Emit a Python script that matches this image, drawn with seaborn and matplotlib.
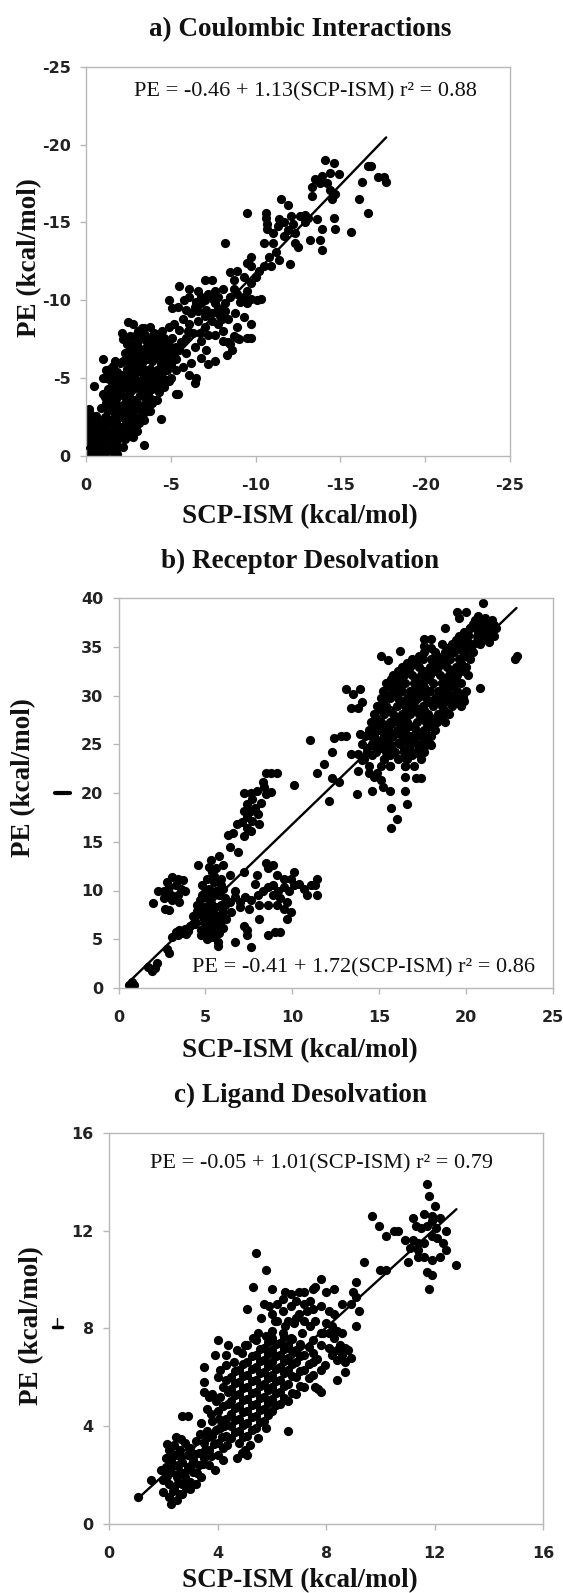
import pandas as pd
import seaborn as sns
import matplotlib.pyplot as plt
from matplotlib.lines import Line2D

# ---------------- data (SCP-ISM, PE) in kcal/mol ----------------
coulomb_pts = [
    # sparse upper tail
    (-14.1, -19.0), (-14.6, -18.8), (-14.4, -18.2), (-14.9, -18.1), (-13.9, -18.0), (-16.6, -18.6),
    (-16.8, -18.6), (-17.2, -17.9), (-17.7, -17.6), (-17.6, -17.9), (-16.3, -17.6), (-13.3, -17.3),
    (-13.5, -17.8), (-13.8, -17.5), (-14.2, -17.5), (-14.4, -17.1), (-14.7, -16.8), (-13.3, -16.7),
    (-14.5, -16.5), (-16.1, -16.5), (-16.6, -15.6), (-14.6, -15.3), (-14.7, -14.6), (-15.6, -14.4),
    (-13.9, -14.6), (-13.2, -13.9), (-13.8, -13.9), (-13.9, -13.2), (-11.5, -16.5), (-11.9, -16.1),
    (-12.9, -15.5), (-13.1, -15.3), (-10.6, -15.6), (-10.6, -15.3), (-10.7, -14.9), (-10.7, -14.6),
    (-9.5, -15.6), (-8.2, -13.7), (-12.0, -12.3), (-12.3, -14.3), (-11.4, -15.2),
    # band around -9 .. -13
    (-9.7, -12.8), (-9.5, -12.4), (-10.2, -11.9), (-10.0, -11.5), (-10.5, -12.2), (-10.8, -12.8),
    (-11.0, -13.7), (-10.5, -13.7), (-11.2, -13.1), (-11.7, -14.1), (-11.9, -14.5), (-12.2, -14.9),
    (-12.3, -13.7), (-12.5, -13.4), (-11.0, -14.3), (-11.3, -14.8), (-11.7, -15.0), (-12.1, -15.4),
    (-12.6, -15.4), (-12.9, -15.0), (-13.6, -15.2), (-11.4, -12.6), (-10.9, -12.2), (-9.7, -11.1),
    (-9.5, -10.6), (-9.3, -10.2), (-9.7, -10.1), (-10.1, -10.0), (-9.5, -9.8), (-9.1, -9.9),
    (-8.9, -10.4), (-8.7, -11.3), (-8.9, -11.9), (-9.3, -11.5), (-9.7, -12.2), (-8.5, -11.8),
    (-8.7, -10.7), (-8.1, -10.7), (-10.3, -10.1),
    # middle cluster
    (-5.5, -10.9), (-4.9, -10.0), (-5.1, -9.5), (-6.1, -10.2), (-6.6, -10.6), (-7.0, -11.3),
    (-7.4, -11.3), (-6.8, -9.8), (-6.4, -9.6), (-5.9, -9.4), (-7.1, -9.4), (-7.6, -9.8),
    (-7.8, -10.2), (-8.2, -9.8), (-7.4, -8.7), (-7.0, -8.3), (-6.6, -8.7), (-6.1, -8.5),
    (-5.7, -8.8), (-7.6, -7.8), (-8.1, -7.4), (-8.5, -7.2), (-8.9, -7.6), (-9.5, -7.6),
    (-8.7, -7.7), (-8.3, -6.5), (-8.6, -6.8), (-7.6, -6.1), (-7.2, -5.9), (-6.8, -6.3),
    (-7.1, -6.8), (-6.4, -7.0), (-6.8, -7.4), (-5.9, -7.6), (-5.5, -8.1), (-5.1, -7.6),
    (-4.9, -8.3), (-5.3, -7.0), (-6.1, -5.2), (-6.4, -4.7), (-6.5, -5.0), (-5.5, -6.8),
    (-4.7, -6.3), (-5.0, -5.9), (-4.2, -6.8), (-4.7, -7.4), (-4.2, -7.8), (-3.8, -8.3),
    (-3.4, -8.2), (-3.0, -7.8), (-2.8, -8.5), (-2.1, -7.9), (-5.3, -4.0), (-4.9, -4.8),
    (-4.4, -5.5), (-7.6, -10.6), (-7.2, -10.4), (-6.8, -10.2), (-6.5, -9.9), (-7.9, -9.0),
    (-8.4, -8.8), (-8.8, -9.2), (-9.3, -8.9), (-9.7, -8.5), (-7.8, -8.5), (-7.2, -7.8),
    (-8.1, -8.0), (-9.0, -7.5), (-9.7, -7.6), (-8.4, -7.3),
    (-5.8, -10.0), (-6.2, -9.2), (-6.6, -9.3), (-7.0, -9.0), (-7.4, -9.2), (-7.8, -9.5),
    (-8.5, -10.2), (-8.2, -9.3), (-5.4, -9.6), (-5.2, -8.5), (-6.0, -8.0), (-6.3, -7.9),
    (-6.7, -7.9), (-5.6, -7.3), (-5.9, -6.6), (-6.2, -6.0), (-5.7, -5.7), (-5.3, -5.5),
    (-5.0, -5.0), (-7.0, -10.0), (-6.1, -10.7), (-7.5, -10.1), (-8.0, -8.8), (-8.9, -8.3),
    # dense lower-left block
    (-0.1, -0.1), (-0.2, -0.4), (-0.1, -0.8), (-0.3, -1.2), (-0.1, -1.6), (-0.2, -2.0),
    (-0.1, -2.5), (-0.4, -0.2), (-0.5, -0.7), (-0.4, -1.0), (-0.6, -1.4), (-0.5, -1.9),
    (-0.3, -2.3), (-0.7, -0.1), (-0.8, -0.5), (-0.9, -0.9), (-0.7, -1.2), (-0.8, -1.7),
    (-0.9, -2.2), (-0.6, -2.6), (0.0, -0.4), (0.0, -1.1), (-0.2, -3.0), (-0.5, -4.5),
    (-0.9, -3.1), (-1.0, -0.3), (-0.3, -0.6), (-0.6, -0.3),
    (-0.25, -0.15), (-0.15, -1.0), (-0.45, -1.5), (-0.35, -1.8), (-0.65, -0.9), (-0.75, -1.9),
    (-0.85, -0.2), (-0.95, -1.4), (-0.55, -2.2), (-0.25, -2.7), (-0.05, -2.0),
    (-1.1, -0.2), (-1.2, -0.7), (-1.1, -1.1), (-1.3, -1.5), (-1.2, -2.0), (-1.1, -2.5),
    (-1.3, -2.9), (-1.2, -3.4), (-1.1, -3.8), (-1.3, -4.3), (-1.2, -5.0), (-1.0, -6.2),
    (-1.5, -0.3), (-1.6, -0.8), (-1.4, -1.2), (-1.6, -1.7), (-1.5, -2.2), (-1.7, -2.6),
    (-1.5, -3.0), (-1.6, -3.5), (-1.4, -4.0), (-1.6, -4.5), (-1.5, -5.2), (-1.6, -5.8),
    (-1.8, -0.1), (-1.9, -0.6), (-1.8, -1.0), (-2.0, -1.4), (-1.9, -1.9), (-1.8, -2.4),
    (-2.0, -2.8), (-1.9, -3.3), (-1.8, -3.8), (-2.0, -4.2), (-1.9, -4.8), (-1.8, -5.4),
    (-2.0, -6.0), (-1.7, -6.1),
    (-1.05, -1.6), (-1.25, -0.4), (-1.35, -2.3), (-1.45, -3.3), (-1.35, -3.7), (-1.45, -4.8),
    (-1.65, -1.2), (-1.75, -2.0), (-1.75, -3.0), (-1.7, -4.1), (-1.85, -4.5), (-1.95, -5.0),
    (-1.2, -5.5), (-1.4, -5.6), (-1.0, -4.0), (-1.0, -5.0),
    (-2.2, -0.6), (-2.3, -1.1), (-2.1, -1.5), (-2.3, -2.0), (-2.2, -2.5), (-2.4, -2.9),
    (-2.2, -3.3), (-2.3, -3.8), (-2.1, -4.3), (-2.3, -4.7), (-2.2, -5.2), (-2.4, -5.6),
    (-2.2, -6.1), (-2.3, -6.6), (-2.5, -8.6),
    (-2.6, -1.3), (-2.7, -1.8), (-2.5, -2.3), (-2.7, -2.7), (-2.6, -3.2), (-2.8, -3.6),
    (-2.6, -4.1), (-2.7, -4.6), (-2.5, -5.0), (-2.7, -5.4), (-2.6, -5.9), (-2.8, -6.3),
    (-2.6, -6.8), (-2.7, -7.2), (-2.9, -7.7),
    (-2.15, -1.2), (-2.45, -1.6), (-2.35, -2.7), (-2.45, -3.5), (-2.45, -4.4), (-2.35, -5.0),
    (-2.45, -6.3), (-2.8, -1.2), (-2.85, -2.1), (-2.85, -3.0), (-2.8, -4.3), (-2.85, -5.0),
    (-2.85, -5.7), (-2.85, -6.7), (-2.4, -7.2), (-2.2, -7.5), (-2.6, -7.7), (-3.2, -7.5),
    (-3.05, -8.0),
    (-3.0, -1.6), (-3.1, -2.1), (-2.9, -2.5), (-3.1, -3.0), (-3.0, -3.4), (-3.2, -3.9),
    (-3.0, -4.4), (-3.1, -4.8), (-2.9, -5.3), (-3.1, -5.7), (-3.0, -6.2), (-3.2, -6.6),
    (-3.0, -7.1), (-3.3, -8.2), (-3.4, -0.7),
    (-3.4, -2.3), (-3.5, -2.8), (-3.3, -3.2), (-3.5, -3.7), (-3.4, -4.2), (-3.6, -4.6),
    (-3.4, -5.1), (-3.5, -5.5), (-3.3, -6.0), (-3.5, -6.4), (-3.4, -6.9), (-3.6, -7.3),
    (-3.5, -7.8),
    (-3.25, -2.5), (-3.2, -4.6), (-3.25, -5.4), (-3.3, -6.3), (-3.65, -3.2), (-3.6, -4.0),
    (-3.65, -5.3), (-3.6, -6.2), (-3.7, -7.0), (-4.05, -3.6), (-4.05, -4.8), (-4.0, -6.5),
    (-4.1, -7.6), (-4.5, -4.7), (-4.4, -6.6), (-4.6, -7.6), (-4.5, -8.0),
    (-3.8, -2.9), (-3.9, -3.4), (-3.7, -3.8), (-3.9, -4.3), (-3.8, -4.8), (-4.0, -5.2),
    (-3.8, -5.6), (-3.9, -6.1), (-3.7, -6.6), (-3.9, -7.0), (-3.8, -7.5), (-4.0, -7.9),
    (-4.2, -3.6), (-4.3, -4.1), (-4.1, -4.5), (-4.3, -5.0), (-4.2, -5.5), (-4.4, -5.9),
    (-4.2, -6.3), (-4.3, -6.8), (-4.1, -7.2), (-4.4, -7.6), (-4.4, -2.4),
    (-4.6, -4.4), (-4.7, -4.9), (-4.5, -5.3), (-4.7, -5.8), (-4.6, -6.2), (-4.8, -6.7),
    (-4.6, -7.1), (-4.8, -5.5), (-5.0, -6.0), (-5.2, -6.5), (-5.0, -7.0), (-5.3, -6.2),
    (-5.4, -4.0),
]

receptor_pts = [
    # along the fit near the origin
    (0.6, 0.35), (0.9, 0.35), (0.75, 0.6), (1.9, 1.7), (2.2, 2.6), (1.7, 2.2), (2.1, 2.1),
    (2.9, 3.6), (2.8, 4.0), (3.1, 5.2), (3.3, 5.7), (3.4, 5.4), (3.5, 5.9), (3.8, 6.1),
    (3.9, 5.5), (4.1, 6.4), (4.4, 6.6), (4.75, 5.4), (3.6, 5.6), (4.0, 5.8),
    # left cluster above the line
    (2.0, 8.7), (2.3, 10.0), (2.6, 10.0), (2.8, 10.9), (3.1, 11.4), (3.4, 11.2), (3.7, 11.1),
    (2.9, 10.4), (3.3, 10.6), (3.6, 10.2), (3.0, 9.5), (3.4, 9.5), (2.7, 8.1), (2.9, 8.0),
    (3.1, 9.0), (3.5, 8.8), (2.6, 9.2), (3.8, 9.9),
    # dense cluster near x = 5
    (4.6, 12.6), (5.3, 13.1), (5.6, 12.3), (5.8, 13.5), (6.0, 12.6), (5.4, 11.9), (5.1, 11.2),
    (5.5, 10.9), (5.9, 11.2), (4.8, 10.6), (5.2, 10.2), (5.6, 10.0), (6.0, 10.2), (4.8, 9.5),
    (5.1, 9.2), (5.4, 9.3), (5.8, 9.5), (6.1, 9.2), (4.5, 8.5), (5.0, 8.3), (5.3, 8.7),
    (5.6, 8.3), (5.9, 8.5), (4.6, 7.6), (5.1, 7.4), (5.4, 7.8), (5.7, 7.4), (6.0, 7.8),
    (4.4, 6.9), (4.9, 6.7), (5.2, 6.9), (5.6, 6.6), (5.9, 6.9), (4.75, 5.9), (5.2, 5.7),
    (5.6, 6.1), (6.0, 6.2), (5.1, 5.0), (5.5, 5.2), (5.7, 4.7), (5.7, 4.3), (4.5, 7.9),
    (6.1, 8.5), (6.2, 7.1), (4.3, 7.4),
    (4.7, 9.0), (5.0, 9.8), (5.3, 9.9), (5.7, 9.9), (4.9, 8.0), (5.2, 8.0), (5.5, 7.1),
    (5.8, 7.1), (5.0, 6.2), (5.4, 6.4), (5.8, 5.6), (5.3, 5.2), (5.9, 10.6), (5.5, 11.5),
    (5.2, 12.4), (4.9, 7.1),
    # upper arm x 6 - 9
    (6.4, 14.5), (6.9, 14.0), (6.3, 15.7), (6.6, 15.9), (6.8, 16.8), (7.1, 17.0), (7.4, 17.5),
    (7.6, 18.2), (7.7, 17.1), (8.1, 16.8), (7.4, 16.4), (7.2, 15.6), (7.6, 16.1), (8.0, 17.8),
    (7.4, 18.9), (7.7, 19.4), (7.2, 20.0), (7.6, 20.0), (7.95, 20.2), (8.4, 20.6), (8.5, 19.9),
    (8.8, 20.1), (8.3, 21.1), (8.5, 22.1), (8.8, 22.1), (9.1, 22.1), (8.2, 19.0), (7.2, 18.2),
    (7.85, 18.5),
    # lower arm x 6.5 - 11.5
    (6.4, 8.8), (6.7, 9.3), (7.0, 8.8), (7.3, 9.3), (7.6, 9.0), (8.0, 9.5), (8.3, 9.9),
    (8.6, 10.4), (8.9, 10.6), (9.2, 10.0), (9.5, 10.4), (9.8, 9.9), (10.1, 10.6), (10.4, 10.7),
    (10.7, 10.2), (11.1, 10.6), (11.4, 11.2), (11.3, 10.6), (10.85, 9.5), (11.4, 9.5),
    (10.1, 11.9), (9.1, 11.6), (9.5, 11.2), (9.9, 11.2), (8.6, 12.3), (8.9, 12.6), (8.5, 12.8),
    (7.95, 11.6), (7.85, 10.7), (7.2, 11.9), (6.4, 11.6), (6.7, 9.9), (8.9, 9.5), (9.3, 9.2),
    (9.7, 8.8), (9.5, 8.1), (9.1, 8.5), (8.6, 8.5), (9.9, 7.8), (9.7, 7.1), (8.1, 7.1),
    (7.2, 6.4), (7.4, 5.9), (7.4, 5.4), (7.6, 4.2), (6.7, 4.7), (8.6, 5.4), (9.0, 5.7),
    (9.3, 5.7), (8.1, 8.5), (7.5, 8.1), (7.0, 8.3), (6.5, 7.8),
    # scattered middle
    (10.1, 20.8), (11.0, 25.4), (11.8, 23.0), (11.4, 22.1), (12.1, 19.2), (12.3, 21.5),
    (12.3, 24.2), (12.4, 25.6), (12.8, 25.8), (13.1, 25.8), (12.7, 21.1), (13.1, 30.7),
    (13.9, 30.7), (13.4, 28.7), (13.8, 28.7), (13.5, 30.2), (14.0, 29.3),
    # edges of the big cloud
    (15.7, 16.4), (16.0, 17.3), (15.7, 18.5), (16.6, 18.9), (16.5, 20.2), (15.6, 20.2),
    (15.2, 20.6), (14.6, 20.2), (13.7, 19.9), (14.7, 21.6), (15.1, 21.3), (14.4, 22.1),
    (14.9, 22.1), (13.8, 22.3), (14.0, 23.4), (16.5, 21.6), (17.1, 21.5), (17.4, 21.5),
    (13.8, 24.0), (13.4, 24.0), (16.1, 25.1), (16.4, 23.7), (16.5, 22.8), (16.4, 24.4),
    (16.9, 25.8), (17.3, 24.0), (17.6, 24.7), (18.0, 24.9), (14.5, 25.8), (13.9, 26.1),
    (14.8, 24.6), (15.2, 24.6), (15.3, 23.5), (15.6, 22.8),
    (21.0, 39.5), (19.5, 38.6), (20.0, 38.6), (19.6, 37.9), (20.7, 38.2), (21.1, 37.9),
    (20.5, 37.5), (20.9, 37.2), (21.3, 37.5), (21.6, 37.2), (20.2, 36.9), (20.7, 36.5),
    (21.2, 36.5), (21.5, 36.2), (21.0, 35.8), (20.6, 35.6), (21.3, 35.5), (20.1, 36.2),
    (19.8, 35.5), (18.8, 36.9), (17.6, 35.8), (17.6, 35.1), (18.0, 35.8), (16.2, 34.6),
    (15.1, 34.1), (15.5, 33.6), (22.9, 34.1), (22.8, 33.7), (20.8, 30.8),
    (19.3, 29.3), (19.6, 29.2), (19.9, 29.4), (19.4, 30.0), (19.8, 30.1),
    # dense body of the cloud
    (14.4, 22.8), (15.1, 22.8), (15.6, 22.8), (16.5, 22.8), (17.0, 22.8),
    (14.1, 23.5), (15.3, 23.5), (16.1, 23.5), (16.6, 23.5), (17.4, 23.5),
    (14.6, 23.9), (15.6, 23.9), (16.9, 23.9),
    (14.3, 24.2), (14.8, 24.2), (15.4, 24.2), (15.9, 24.2), (16.4, 24.2), (16.9, 24.2), (17.6, 24.2),
    (14.3, 24.6), (15.1, 24.6), (15.7, 24.6), (16.7, 24.6), (17.3, 24.6),
    (14.0, 25.0), (14.6, 25.0), (15.1, 25.0), (15.6, 25.0), (16.2, 25.0), (16.7, 25.0), (17.2, 25.0),
    (17.9, 25.0),
    (14.9, 25.4), (15.4, 25.4), (16.5, 25.4), (17.0, 25.4), (17.6, 25.4),
    (14.2, 25.8), (14.7, 25.8), (15.3, 25.8), (15.8, 25.8), (16.3, 25.8), (16.8, 25.8), (17.4, 25.8),
    (18.0, 25.8),
    (14.5, 26.2), (15.6, 26.2), (16.1, 26.2), (17.1, 26.2), (17.7, 26.2),
    (14.4, 26.5), (15.0, 26.5), (15.5, 26.5), (16.0, 26.5), (16.5, 26.5), (17.1, 26.5), (17.6, 26.5),
    (18.2, 26.5),
    (14.7, 26.9), (15.3, 26.9), (16.3, 26.9), (16.8, 26.9), (17.9, 26.9),
    (14.5, 27.3), (15.1, 27.3), (15.6, 27.3), (16.1, 27.3), (16.6, 27.3), (17.2, 27.3), (17.7, 27.3),
    (18.3, 27.3), (18.8, 27.3),
    (14.8, 27.7), (15.9, 27.7), (16.4, 27.7), (17.5, 27.7), (18.0, 27.7), (18.6, 27.7),
    (14.7, 28.1), (15.3, 28.1), (15.8, 28.1), (16.3, 28.1), (16.8, 28.1), (17.3, 28.1), (17.8, 28.1),
    (18.4, 28.1), (19.0, 28.1),
    (15.1, 28.5), (15.6, 28.5), (16.6, 28.5), (17.1, 28.5), (17.6, 28.5), (18.7, 28.5),
    (14.9, 28.9), (15.4, 28.9), (16.0, 28.9), (16.5, 28.9), (17.0, 28.9), (17.5, 28.9), (18.1, 28.9),
    (18.6, 28.9), (19.2, 28.9), (19.7, 28.9),
    (15.2, 29.3), (16.3, 29.3), (16.8, 29.3), (17.8, 29.3), (18.4, 29.3), (19.0, 29.3),
    (15.1, 29.7), (15.6, 29.7), (16.1, 29.7), (16.6, 29.7), (17.2, 29.7), (17.7, 29.7), (18.2, 29.7),
    (18.8, 29.7), (19.3, 29.7), (19.8, 29.7),
    (15.4, 30.1), (15.9, 30.1), (16.9, 30.1), (17.5, 30.1), (18.5, 30.1), (19.1, 30.1),
    (15.2, 30.5), (15.8, 30.5), (16.3, 30.5), (16.8, 30.5), (17.3, 30.5), (17.9, 30.5), (18.4, 30.5),
    (18.9, 30.5), (19.5, 30.5), (20.0, 30.5),
    (15.6, 30.9), (16.1, 30.9), (17.1, 30.9), (17.6, 30.9), (18.7, 30.9), (19.3, 30.9),
    (15.4, 31.3), (16.0, 31.3), (16.5, 31.3), (17.0, 31.3), (17.5, 31.3), (18.1, 31.3), (18.6, 31.3),
    (19.1, 31.3), (19.7, 31.3),
    (15.7, 31.7), (16.2, 31.7), (17.2, 31.7), (17.8, 31.7), (18.8, 31.7), (19.4, 31.7),
    (15.8, 32.1), (16.4, 32.1), (16.9, 32.1), (17.4, 32.1), (17.9, 32.1), (18.5, 32.1), (19.0, 32.1),
    (19.5, 32.1), (20.1, 32.1),
    (16.1, 32.5), (16.6, 32.5), (17.6, 32.5), (18.2, 32.5), (19.2, 32.5), (19.8, 32.5),
    (16.3, 32.9), (16.8, 32.9), (17.3, 32.9), (17.9, 32.9), (18.4, 32.9), (18.9, 32.9), (19.4, 32.9),
    (20.0, 32.9),
    (16.6, 33.3), (17.1, 33.3), (18.2, 33.3), (18.7, 33.3), (19.7, 33.3),
    (16.9, 33.7), (17.5, 33.7), (18.0, 33.7), (18.5, 33.7), (19.1, 33.7), (19.6, 33.7), (20.2, 33.7),
    (17.3, 34.1), (18.3, 34.1), (18.9, 34.1), (19.9, 34.1),
    (17.6, 34.5), (18.2, 34.5), (18.8, 34.5), (19.3, 34.5), (19.8, 34.5), (20.4, 34.5),
    (18.0, 34.9), (18.9, 34.9), (19.5, 34.9), (20.1, 34.9),
    (18.6, 35.3), (19.2, 35.3), (19.7, 35.3), (20.3, 35.3), (20.8, 35.3),
    (19.4, 35.7), (20.0, 35.7), (20.9, 35.7),
    (19.6, 36.1), (20.1, 36.1), (20.6, 36.1), (21.1, 36.1), (21.6, 36.1),
    (19.9, 36.5), (20.9, 36.5), (21.4, 36.5),
    (20.2, 36.9), (20.7, 36.9), (21.2, 36.9), (21.7, 36.9),
    (20.4, 37.3), (21.4, 37.3),
    (20.5, 37.7), (21.0, 37.7), (21.5, 37.7),
]

ligand_pts = [
    # upper right group
    (11.7, 13.9), (11.8, 13.4), (12.0, 13.0), (11.6, 12.7), (11.9, 12.6), (9.7, 12.6), (9.95, 12.2),
    (10.2, 11.8), (10.5, 12.0), (10.65, 12.0), (11.2, 12.5), (11.3, 12.2), (11.5, 12.1), (11.7, 12.2),
    (11.9, 12.4), (12.05, 12.1), (12.2, 12.5), (11.9, 11.8), (12.1, 11.7), (11.2, 11.6), (11.4, 11.5),
    (11.6, 11.5), (12.3, 11.5), (12.4, 11.2), (11.1, 11.3), (11.4, 11.2), (11.6, 10.9), (11.9, 10.8),
    (12.2, 10.9), (12.8, 10.6), (11.0, 10.7), (11.7, 10.3), (11.9, 10.2), (11.8, 9.6), (9.4, 10.7),
    (10.0, 10.4), (10.2, 10.4), (10.9, 11.6), (11.4, 10.9), (12.4, 12.0),
    # along the line 8 - 10
    (9.0, 9.5), (9.1, 9.3), (8.9, 9.0), (9.2, 8.7), (9.1, 8.1), (9.1, 9.9), (8.6, 9.0), (8.3, 8.6),
    # group right of the line
    (8.0, 8.2), (8.2, 8.1), (8.4, 7.9), (8.6, 7.8), (8.1, 7.8), (8.3, 7.6), (8.5, 7.3), (8.7, 7.2),
    (8.4, 7.1), (8.6, 6.9), (8.8, 7.1), (8.4, 6.7), (8.7, 6.6), (8.9, 6.8), (8.7, 6.2), (8.4, 5.9),
    (7.96, 6.5), (7.8, 5.4), (7.6, 5.6), (7.9, 7.8), (7.8, 7.3), (8.1, 7.2), (8.2, 6.9),
    # upper cluster x 5 - 8
    (5.4, 11.1), (5.8, 10.4), (5.3, 9.7), (5.1, 8.8), (6.0, 9.6), (5.7, 9.0), (6.0, 8.6), (6.4, 9.2),
    (6.7, 9.4), (7.0, 9.5), (7.2, 9.5), (7.5, 9.6), (7.8, 10.0), (7.6, 9.7), (8.0, 9.5), (8.3, 9.6),
    (7.2, 9.0), (7.4, 9.1), (7.0, 8.6), (6.7, 8.9), (6.4, 8.7), (6.2, 8.3), (6.6, 8.3), (6.8, 8.2),
    (7.2, 8.3), (7.4, 8.1), (7.6, 8.3), (7.8, 7.8), (7.5, 7.5), (7.1, 7.8), (6.7, 7.6), (6.4, 7.8),
    (6.0, 7.9), (5.8, 7.7), (5.5, 7.8), (5.3, 7.6), (5.0, 7.3), (4.7, 7.1),
    (6.2, 9.0), (6.5, 9.5), (6.9, 9.1), (7.3, 8.7), (6.9, 8.4), (6.5, 8.1), (6.1, 8.3), (5.6, 8.4),
    (5.9, 8.9), (7.8, 8.9), (8.1, 8.7), (7.5, 8.8),
    # lower outliers
    (1.08, 1.1), (1.55, 1.8), (2.3, 0.8), (2.5, 0.95), (2.7, 1.2), (3.0, 1.4), (2.9, 4.4), (2.7, 4.4),
    (3.5, 5.4), (3.5, 6.4), (4.0, 7.5), (3.9, 6.9), (4.3, 6.9), (6.6, 3.8), (5.0, 3.0), (5.1, 2.8),
    (4.7, 2.7), (3.7, 5.2), (4.1, 6.3),
    # dense band x 2 - 3.5
    (2.0, 1.3), (2.0, 1.8), (2.1, 2.3), (2.2, 1.1), (2.2, 1.6), (2.3, 2.1), (2.3, 2.6), (2.2, 3.0),
    (2.4, 1.4), (2.5, 1.9), (2.4, 2.4), (2.5, 2.8), (2.4, 3.2), (2.6, 1.2), (2.7, 1.6), (2.6, 2.1),
    (2.7, 2.5), (2.6, 3.0), (2.8, 3.3), (2.8, 1.9), (2.9, 2.3), (2.9, 2.8), (3.0, 1.7), (3.0, 3.1),
    (3.1, 2.1), (3.1, 2.6), (3.2, 3.4), (3.2, 1.6), (3.3, 2.4), (3.3, 2.9), (2.1, 2.7), (1.9, 2.2),
    (2.15, 1.95), (2.35, 1.35), (2.35, 2.85), (2.55, 1.65), (2.55, 2.35), (2.65, 2.75), (2.75, 2.05),
    (2.85, 1.45), (2.95, 3.05), (3.05, 2.45), (3.15, 2.85), (3.25, 2.05), (2.45, 3.55), (2.15, 3.25),
    (2.65, 3.45), (3.35, 3.65),
    # x 3.3 - 4.5
    (3.4, 1.9), (3.5, 2.7), (3.5, 3.3), (3.6, 3.8), (3.7, 2.4), (3.7, 3.0), (3.8, 3.6), (3.8, 4.2),
    (3.9, 2.2), (4.0, 2.8), (4.0, 3.3), (4.0, 4.6), (4.1, 3.9), (4.2, 2.6), (4.2, 3.1), (4.3, 4.3),
    (4.3, 3.6), (3.6, 4.7), (3.4, 4.1), (4.1, 5.2), (4.4, 4.9), (3.8, 5.3), (3.5, 5.8), (4.0, 6.0),
    (3.45, 2.45), (3.55, 3.0), (3.65, 3.55), (3.75, 2.75), (3.85, 3.25), (3.95, 3.85), (4.05, 4.3),
    (4.15, 3.55), (4.25, 4.0), (4.35, 3.2), (3.75, 4.5), (3.95, 5.0), (4.2, 5.6), (4.4, 5.4),
    (4.3, 5.9), (4.2, 4.8),
    # core x 4.5 - 7.8
    (4.5, 3.5), (4.5, 4.0), (4.5, 4.5), (4.5, 5.0), (4.5, 5.5), (4.5, 6.0),
    (4.8, 3.3), (4.8, 3.8), (4.8, 4.3), (4.8, 4.8), (4.8, 5.3), (4.8, 5.8), (4.8, 6.3),
    (5.1, 3.6), (5.1, 4.1), (5.1, 4.6), (5.1, 5.1), (5.1, 5.6), (5.1, 6.1), (5.1, 6.6), (5.1, 7.3),
    (5.4, 3.9), (5.4, 4.4), (5.4, 4.9), (5.4, 5.4), (5.4, 5.9), (5.4, 6.4), (5.4, 6.9), (5.4, 7.5),
    (5.7, 4.2), (5.7, 4.7), (5.7, 5.2), (5.7, 5.7), (5.7, 6.2), (5.7, 6.7), (5.7, 7.2),
    (6.0, 4.6), (6.0, 5.1), (6.0, 5.6), (6.0, 6.1), (6.0, 6.6), (6.0, 7.1), (6.0, 7.6),
    (6.3, 4.9), (6.3, 5.4), (6.3, 5.9), (6.3, 6.4), (6.3, 6.9), (6.3, 7.4),
    (6.6, 5.0), (6.6, 5.7), (6.6, 6.3), (6.6, 6.8), (6.6, 7.3),
    (6.9, 5.3), (6.9, 6.0), (6.9, 6.6), (6.9, 7.1),
    (7.2, 5.6), (7.2, 6.3), (7.2, 6.9), (7.5, 6.1), (7.5, 6.6), (7.5, 7.0), (7.8, 6.3), (7.7, 5.5),
    (4.9, 2.9), (5.2, 3.2), (5.5, 3.5), (5.8, 3.9), (4.3, 6.5), (4.6, 6.6), (4.9, 7.0), (4.4, 7.3),
    (4.65, 3.75), (4.65, 4.25), (4.65, 4.75), (4.65, 5.25), (4.65, 5.75), (4.65, 6.25),
    (4.95, 3.55), (4.95, 4.05), (4.95, 4.55), (4.95, 5.05), (4.95, 5.55), (4.95, 6.05), (4.95, 6.55),
    (5.25, 3.85), (5.25, 4.35), (5.25, 4.85), (5.25, 5.35), (5.25, 5.85), (5.25, 6.35), (5.25, 6.85),
    (5.55, 4.15), (5.55, 4.65), (5.55, 5.15), (5.55, 5.65), (5.55, 6.15), (5.55, 6.65), (5.55, 7.15),
    (5.85, 4.45), (5.85, 4.95), (5.85, 5.45), (5.85, 5.95), (5.85, 6.45), (5.85, 6.95), (5.85, 7.45),
    (6.15, 4.85), (6.15, 5.35), (6.15, 5.85), (6.15, 6.35), (6.15, 6.85), (6.15, 7.35),
    (6.45, 5.15), (6.45, 5.65), (6.45, 6.15), (6.45, 6.65), (6.45, 7.15), (6.45, 7.65),
    (6.75, 5.35), (6.75, 6.05), (6.75, 6.55), (6.75, 7.05), (6.75, 7.55),
    (7.05, 5.65), (7.05, 6.25), (7.05, 6.85), (7.05, 7.35), (7.35, 5.95), (7.35, 6.55), (7.35, 7.25),
    (7.65, 6.75),
]

# fitted lines printed on the figure: (intercept, slope)
coulomb_fit = (-0.46, 1.13)
receptor_fit = (-0.41, 1.72)
ligand_fit = (-0.05, 1.01)

coulomb_ticks = [0, -5, -10, -15, -20, -25]
receptor_xticks = [0, 5, 10, 15, 20, 25]
receptor_yticks = [0, 5, 10, 15, 20, 25, 30, 35, 40]
ligand_ticks = [0, 4, 8, 12, 16]

titles = ["a) Coulombic Interactions", "b) Receptor Desolvation", "c) Ligand Desolvation"]
equations = ["PE = -0.46 + 1.13(SCP-ISM) r² = 0.88",
             "PE = -0.41 + 1.72(SCP-ISM) r² = 0.86",
             "PE = -0.05 + 1.01(SCP-ISM) r² = 0.79"]

# ---------------- drawing ----------------
sns.set_theme(style="white")
plt.rcParams["axes.unicode_minus"] = False
SERIF = "Liberation Serif"

W, H = 563, 1593
fig = plt.figure(figsize=(W / 100, H / 100), dpi=100)


def box(l, t, r, b):
    return [l / W, 1 - b / H, (r - l) / W, (b - t) / H]


def ftext(x, y, s, **kw):
    fig.text(x / W, 1 - y / H, s, ha="center", va="center", **kw)


panels = [
    dict(pts=coulomb_pts, fit=coulomb_fit, box=box(86, 66.7, 510, 456), xlim=(0, -25), ylim=(0, -25),
         xt=coulomb_ticks, yt=coulomb_ticks, title_y=30, xlab_y=517, ylab=(30, 258), eq=(305, 92)),
    dict(pts=receptor_pts, fit=receptor_fit, box=box(118.5, 598, 553, 988), xlim=(0, 25), ylim=(0, 40),
         xt=receptor_xticks, yt=receptor_yticks, title_y=561, xlab_y=1051, ylab=(24, 778), eq=(364, 968)),
    dict(pts=ligand_pts, fit=ligand_fit, box=box(109, 1133, 543.3, 1523.5), xlim=(0, 16), ylim=(0, 16),
         xt=ligand_ticks, yt=ligand_ticks, title_y=1095, xlab_y=1581, ylab=(32, 1326), eq=(321, 1164)),
]

for i, p in enumerate(panels):
    ax = fig.add_axes(p["box"])
    df = pd.DataFrame(p["pts"], columns=["scp", "pe"])
    sns.scatterplot(data=df, x="scp", y="pe", ax=ax, color="black", s=44, linewidth=0, zorder=2)

    # fitted line over the data range, from the printed coefficients
    b0, b1 = p["fit"]
    order = df["scp"].abs()
    xs = [df["scp"][order.idxmin()], df["scp"][order.idxmax()]]
    line = pd.DataFrame({"scp": xs, "pe": [b0 + b1 * x for x in xs]})
    sns.lineplot(data=line, x="scp", y="pe", ax=ax, color="black", lw=1.7, zorder=3)

    ax.set_xlim(*p["xlim"])
    ax.set_ylim(*p["ylim"])
    ax.set_xticks(p["xt"])
    ax.set_yticks(p["yt"])
    ax.set_xlabel("")
    ax.set_ylabel("")
    for sp in ax.spines.values():
        sp.set_color("#b8b8b8")
        sp.set_linewidth(1.0)
    ax.tick_params(axis="both", which="both", direction="out", length=4, width=1, color="#b8b8b8",
                   labelsize=11.5, labelcolor="#222222", left=True, bottom=True)
    ax.tick_params(axis="x", pad=12)
    ax.tick_params(axis="y", pad=7)
    for lab in ax.get_xticklabels() + ax.get_yticklabels():
        lab.set_fontweight("bold")
        lab.set_family("DejaVu Sans")

    ftext(300, p["title_y"], titles[i], family=SERIF, fontweight="bold", fontsize=19.5, color="#111111")
    ftext(300, p["xlab_y"], "SCP-ISM (kcal/mol)", family=SERIF, fontweight="bold", fontsize=19.5,
          color="#111111")
    ftext(p["ylab"][0], p["ylab"][1], "PE (kcal/mol)", family=SERIF, fontweight="bold", fontsize=19.5,
          rotation=90, color="#111111")
    ftext(p["eq"][0], p["eq"][1], equations[i], family=SERIF, fontsize=16, color="#111111")

# small stray marks beside the y labels of panels b and c
fig.add_artist(Line2D([55 / W, 70 / W], [1 - 792.5 / H] * 2, color="black", lw=3))
fig.add_artist(Line2D([53 / W, 62 / W], [1 - 1327 / H] * 2, color="black", lw=2.5))
fig.add_artist(Line2D([57 / W, 57 / W], [1 - 1318 / H, 1 - 1327 / H], color="black", lw=1))

fig.savefig("out.png", dpi=100, facecolor="white")
